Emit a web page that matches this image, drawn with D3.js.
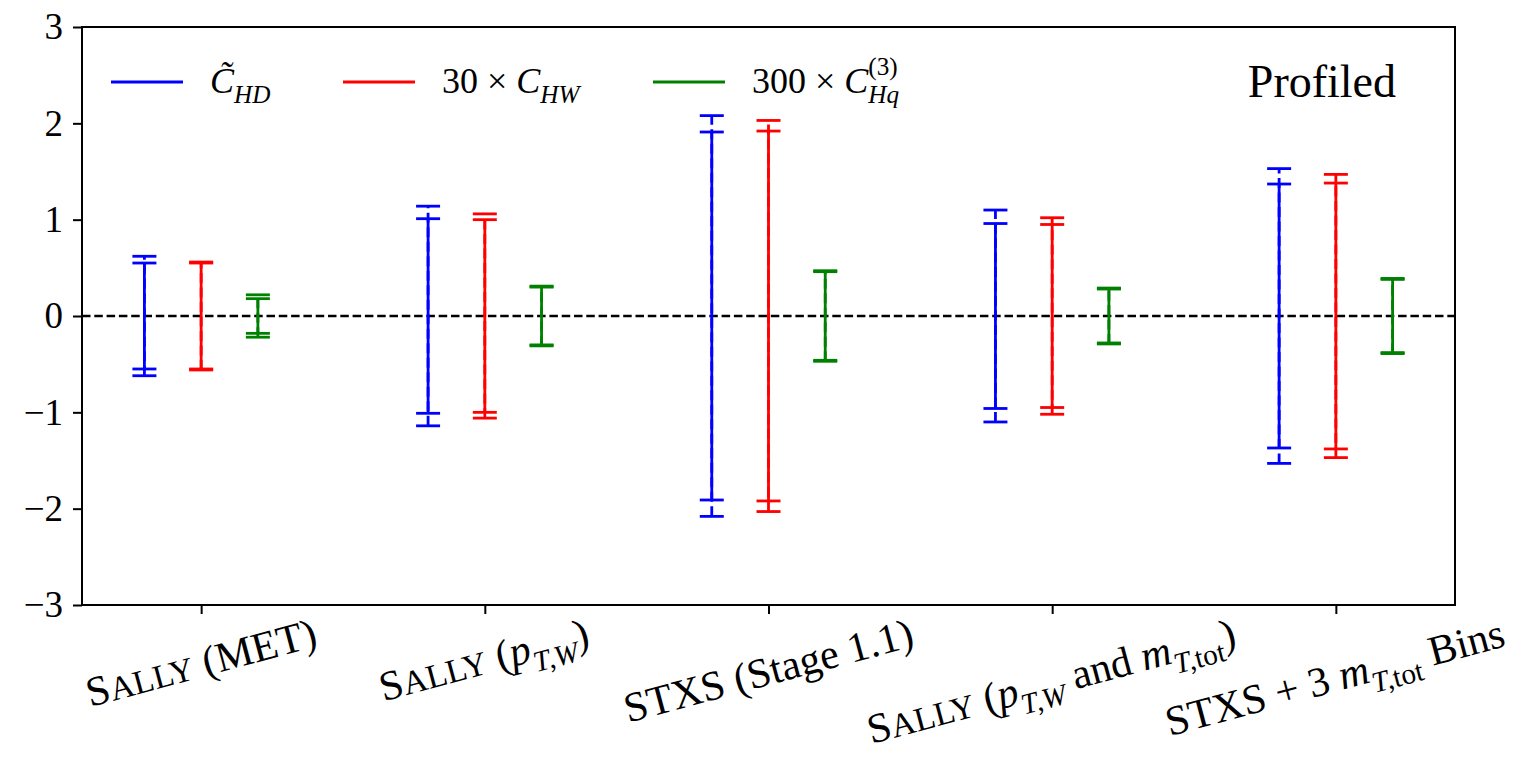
<!DOCTYPE html>
<html>
<head>
<meta charset="utf-8">
<script src="https://cdn.jsdelivr.net/npm/d3@7"></script>
<style>
body { margin: 0; background: #fff; }
text { font-family: "Liberation Serif", "DejaVu Serif", serif; fill: #000; }
</style>
</head>
<body>
<svg id="chart" width="1522" height="762"></svg>
<script>
// category labels, as text pieces: n = roman, sc = small caps, i = italic, sub = italic subscript, subr = roman subscript
var categories = [
    [["S", "n"], ["ALLY", "sc"], [" (MET)", "n"]],
    [["S", "n"], ["ALLY", "sc"], [" (", "n"], ["p", "i"], ["T,W", "sub"], [")", "n"]],
    [["STXS (Stage 1.1)", "n"]],
    [["S", "n"], ["ALLY", "sc"], [" (", "n"], ["p", "i"], ["T,W", "sub"], [" and ", "n"], ["m", "i"], ["T,", "sub"], ["tot", "subr"], [")", "n"]],
    [["STXS + 3 ", "n"], ["m", "i"], ["T,", "sub"], ["tot", "subr"], [" Bins", "n"]]
];

// half widths of the intervals (centred on 0), outer = dashed, inner = solid
var hdOuter = [0.62, 1.14, 2.08, 1.10, 1.53];
var hdInner = [0.55, 1.01, 1.91, 0.96, 1.37];
var hwOuter = [0.56, 1.06, 2.03, 1.02, 1.47];
var hwInner = [0.55, 1.00, 1.92, 0.95, 1.38];
var hqOuter = [0.22, 0.31, 0.47, 0.29, 0.39];
var hqInner = [0.18, 0.30, 0.46, 0.28, 0.38];

var yTicks = [-3, -2, -1, 0, 1, 2, 3];

var legendLabels = [
    [["C\u0303", "i"], ["HD", "sub"]],
    [["30 \u00d7 ", "n"], ["C", "i"], ["HW", "sub"]],
    [["300 \u00d7 ", "n"], ["C", "i"], ["Hq", "sub"], ["(3)", "sup"]]
];

var series = [
    { color: "#0000ff", offset: -0.2, outer: hdOuter, inner: hdInner },
    { color: "#ff0000", offset: 0, outer: hwOuter, inner: hwInner },
    { color: "#008000", offset: 0.2, outer: hqOuter, inner: hqInner }
];

var margin = { left: 82, right: 67, top: 27, bottom: 157 };
var W = 1522, H = 762;
var svg = d3.select("#chart");

var x = d3.scaleLinear().domain([-0.42, 4.42]).range([margin.left, W - margin.right]);
var y = d3.scaleLinear().domain([-3, 3]).range([H - margin.bottom, margin.top]);

// write a list of pieces into a <text>, handling sub/superscripts with dy
function richText(sel, parts, size) {
    var shift = 0;
    var lastSub = null;
    parts.forEach(function (p) {
        var kind = p[1];
        var target = 0, fs = size, style = "normal";
        if (kind === "sc") { fs = size * 0.8; }
        if (kind === "i") { style = "italic"; }
        if (kind === "sub" || kind === "subr") { target = size * 0.27; fs = size * 0.7; style = kind === "sub" ? "italic" : "normal"; }
        if (kind === "sup") { target = -size * 0.5; fs = size * 0.7; }
        var ts = sel.append("tspan")
            .attr("font-size", fs)
            .attr("font-style", style)
            .attr("dy", target - shift)
            .text(p[0]);
        if (kind === "sup" && lastSub) {
            ts.attr("dx", -lastSub.node().getComputedTextLength());
        }
        lastSub = (kind === "sub") ? ts : null;
        shift = target;
    });
}

// zero line
svg.append("line")
    .attr("x1", x.range()[0]).attr("x2", x.range()[1])
    .attr("y1", y(0)).attr("y2", y(0))
    .attr("stroke", "#000").attr("stroke-width", 2.4)
    .attr("stroke-dasharray", "8.5,3.8");

// error bars
var capHalf = 12;
function drawBar(g, cx, half, color, dashed) {
    g.append("line")
        .attr("x1", cx).attr("x2", cx)
        .attr("y1", y(-half)).attr("y2", y(half))
        .attr("stroke", color).attr("stroke-width", 2.8)
        .attr("stroke-dasharray", dashed ? "10,4.5" : null);
    [-half, half].forEach(function (v) {
        g.append("line")
            .attr("x1", cx - capHalf).attr("x2", cx + capHalf)
            .attr("y1", y(v)).attr("y2", y(v))
            .attr("stroke", color).attr("stroke-width", 2.8);
    });
}

var bars = svg.append("g").attr("class", "bars");
series.forEach(function (s) {
    categories.forEach(function (c, i) {
        var cx = x(i + s.offset);
        drawBar(bars, cx, s.outer[i], s.color, true);
        drawBar(bars, cx, s.inner[i], s.color, false);
    });
});

// frame
svg.append("rect")
    .attr("x", x.range()[0]).attr("y", y.range()[1])
    .attr("width", x.range()[1] - x.range()[0])
    .attr("height", y.range()[0] - y.range()[1])
    .attr("fill", "none").attr("stroke", "#000").attr("stroke-width", 2);

// y axis
var axisY = d3.axisLeft(y).tickValues(yTicks).tickSize(9).tickPadding(10).tickFormat(d3.format("d"));
var gy = svg.append("g").attr("transform", "translate(" + x.range()[0] + ",0)").call(axisY);
gy.select(".domain").remove();
gy.selectAll(".tick line").attr("stroke-width", 2);
gy.selectAll(".tick text").attr("font-size", 37).attr("font-family", "Liberation Serif");

// x axis ticks
var axisX = d3.axisBottom(x).tickValues(d3.range(categories.length)).tickSize(9).tickFormat("");
var gx = svg.append("g").attr("transform", "translate(0," + y.range()[0] + ")").call(axisX);
gx.select(".domain").remove();
gx.selectAll(".tick line").attr("stroke-width", 2);

// rotated category labels, centred on the tick, rotated bbox top below the axis
var angle = 15 * Math.PI / 180;
var labelTop = y.range()[0] + 5;
categories.forEach(function (parts, i) {
    var t = svg.append("text").attr("font-size", 42);
    richText(t, parts, 42);
    var b = t.node().getBBox();
    var rotH = b.width * Math.sin(angle) + b.height * Math.cos(angle);
    var cx = x(i), cy = labelTop + rotH / 2;
    t.attr("transform", "translate(" + cx + "," + cy + ") rotate(-15) translate(" +
        (-(b.x + b.width / 2)) + "," + (-(b.y + b.height / 2)) + ")");
});

// legend
var legendX = [111, 343, 653];
var legendY = 82;
legendLabels.forEach(function (parts, i) {
    svg.append("line")
        .attr("x1", legendX[i]).attr("x2", legendX[i] + 72)
        .attr("y1", legendY).attr("y2", legendY)
        .attr("stroke", series[i].color).attr("stroke-width", 3);
    var t = svg.append("text")
        .attr("x", legendX[i] + 99).attr("y", legendY + 11)
        .attr("font-size", 36);
    richText(t, parts, 36);
});

svg.append("text")
    .attr("x", 1396).attr("y", 97)
    .attr("text-anchor", "end")
    .attr("font-size", 46)
    .text("Profiled");
</script>
</body>
</html>
